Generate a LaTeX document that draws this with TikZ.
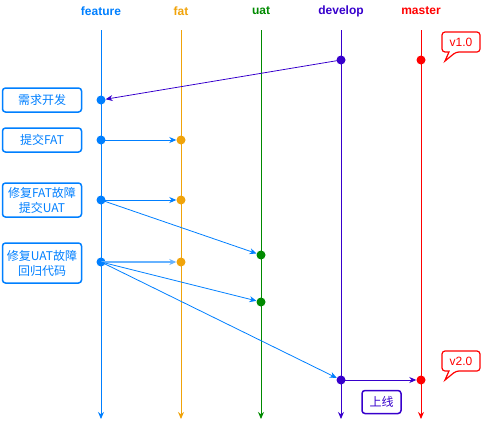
\documentclass[tikz,border=0pt]{standalone}
\usepackage{fontspec}
\setmainfont{Liberation Sans}
\newfontfamily\cjk{Noto Sans CJK SC}
\usetikzlibrary{arrows.meta}
\definecolor{cfeat}{HTML}{007FFF}
\definecolor{cfat}{HTML}{F0A30A}
\definecolor{cuat}{HTML}{008A00}
\definecolor{cdev}{HTML}{3700CC}
\definecolor{cmast}{HTML}{FF0000}
\definecolor{clight}{HTML}{66B2FF}
\tikzset{
  lanehead/.style={font=\bfseries\fontsize{12}{14}\selectfont, text=#1},
  lane/.style={draw=#1, line width=1pt, -{Stealth[length=7pt,width=6pt]}},
  commit/.style={circle, fill=#1, inner sep=0pt, minimum size=9pt},
  flow/.style={draw=#1, line width=0.8pt, -{Stealth[length=7pt,width=6pt]}},
  stepbox/.style={draw=cfeat, line width=1.5pt, rounded corners=3pt, text=cfeat,
    font=\cjk\fontsize{12}{15}\selectfont, align=center, inner sep=1pt},
  tagtext/.style={text=cmast, font=\fontsize{12}{14}\selectfont},
}
\begin{document}
\begin{tikzpicture}[x=1pt,y=-1pt]
\useasboundingbox (0,0) rectangle (482,429);

% branch names
\node[lanehead=cfeat] (hfeat) at (101,11) {feature};
\node[lanehead=cfat]  (hfat)  at (181,11) {fat};
\node[lanehead=cuat]  (huat)  at (261,11) {uat};
\node[lanehead=cdev]  (hdev)  at (341,11) {develop};
\node[lanehead=cmast] (hmast) at (421,11) {master};

% branch lines
\coordinate (tfeat) at (101,30); \coordinate (bfeat) at (101,419);
\coordinate (tfat)  at (181,30); \coordinate (bfat)  at (181,419);
\coordinate (tuat)  at (261,30); \coordinate (buat)  at (261,419);
\coordinate (tdev)  at (341,30); \coordinate (bdev)  at (341,419);
\coordinate (tmast) at (421,30); \coordinate (bmast) at (421,419);
\draw[lane=cfeat] (tfeat) -- (bfeat);
\draw[lane=cfat]  (tfat)  -- (bfat);
\draw[lane=cuat]  (tuat)  -- (buat);
\draw[lane=cdev]  (tdev)  -- (bdev);
\draw[lane=cmast] (tmast) -- (bmast);

% commits
\node[commit=cdev]  (d1) at (341,60) {};
\node[commit=cmast] (m1) at (421,60) {};
\node[commit=cfeat] (f1) at (101,100) {};
\node[commit=cfeat] (f2) at (101,140) {};
\node[commit=cfat]  (a1) at (181,140) {};
\node[commit=cfeat] (f3) at (101,200) {};
\node[commit=cfat]  (a2) at (181,200) {};
\node[commit=cuat]  (u1) at (261,255) {};
\node[commit=cfeat] (f4) at (101,262) {};
\node[commit=cfat]  (a3) at (181,262) {};
\node[commit=cuat]  (u2) at (261,302) {};
\node[commit=cdev]  (d2) at (341,380) {};
\node[commit=cmast] (m2) at (421,380) {};

% merges
\draw[flow=cdev]  (d1.center) -- (f1);
\draw[flow=cfeat] (f2.center) -- (a1);
\draw[flow=cfeat] (f3.center) -- (a2);
\draw[flow=cfeat] (f3.center) -- (u1);
\draw[flow=clight, line width=1.6pt] (f4.center) -- (a3);
\draw[flow=cfeat] (f4.center) -- (u2);
\draw[flow=cfeat] (f4.center) -- (d2);
\draw[flow=cdev]  (d2.center) -- (m2);

% step descriptions
\node[stepbox, minimum width=79pt, minimum height=24pt] (s1) at (42,100) {需求开发};
\node[stepbox, minimum width=79pt, minimum height=24pt] (s2) at (42,140) {提交FAT};
\node[stepbox, minimum width=79pt, minimum height=34pt] (s3) at (42,200) {修复FAT故障\\提交UAT};
\node[stepbox, minimum width=79pt, minimum height=40pt] (s4) at (42,263) {修复UAT故障\\回归代码};

% release box
\node[draw=cdev, line width=1.5pt, rounded corners=3pt, text=cdev,
  font=\cjk\fontsize{12}{14}\selectfont, minimum width=39pt, minimum height=23pt]
  (rel) at (381.5,402) {上线};

% version callouts
\draw[cmast, line width=1.2pt, rounded corners=3pt]
  (442,32) -- (480,32) -- (480,52) -- (456,52) [sharp corners] -- (445,61) -- (449,52)
  [rounded corners=3pt] -- (442,52) -- cycle;
\node[tagtext] (v1) at (461,42) {v1.0};
\draw[cmast, line width=1.2pt, rounded corners=3pt]
  (442,351) -- (480,351) -- (480,371) -- (456,371) [sharp corners] -- (445,380) -- (449,371)
  [rounded corners=3pt] -- (442,371) -- cycle;
\node[tagtext] (v2) at (461,361) {v2.0};
\end{tikzpicture}
\end{document}
